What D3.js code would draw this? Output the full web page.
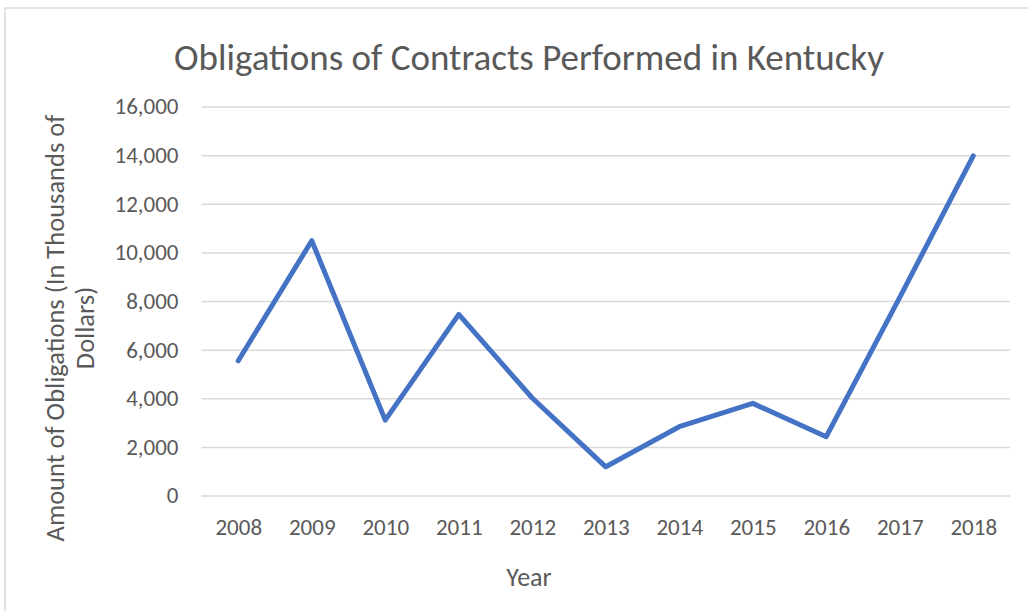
<!DOCTYPE html>
<html>
<head>
<meta charset="utf-8">
<script src="https://cdn.jsdelivr.net/npm/d3@7/dist/d3.min.js"></script>
<style>
    body { margin: 0; background: #fff; }
    svg { display: block; }
    svg text { font-family: Carlito, Calibri, Lato, sans-serif; }
</style>
</head>
<body>
<svg id="chart" width="1028" height="611"></svg>
<script>
// Chart data
const years = ['2008', '2009', '2010', '2011', '2012', '2013', '2014', '2015', '2016', '2017', '2018'];
const obligations = [5540, 10480, 3100, 7450, 4010, 1180, 2830, 3790, 2420, 8150, 13970];
const yTicks = [0, 2000, 4000, 6000, 8000, 10000, 12000, 14000, 16000];

const chartTitle = 'Obligations of Contracts Performed in Kentucky';
const xTitle = 'Year';
const yTitleLines = ['Amount of Obligations (In Thousands of', 'Dollars)'];

const colors = {
    text: '#595959',
    grid: '#d9d9d9',
    line: '#4472c4',
    border: '#d9d9d9'
};

const svg = d3.select('#chart');

// Plot area
const plot = { left: 201.5, right: 1010, top: 106.5, bottom: 495.5 };

// Chart area border (right/bottom edges run off the picture)
svg.append('rect')
    .attr('x', 5)
    .attr('y', 8)
    .attr('width', 1100)
    .attr('height', 700)
    .style('fill', 'none')
    .style('stroke', colors.border)
    .style('stroke-width', 1.5);

const x = d3.scalePoint()
    .domain(years)
    .range([plot.left, plot.right])
    .padding(0.5);

const y = d3.scaleLinear()
    .domain([0, 16000])
    .range([plot.bottom, plot.top]);

// Gridlines + y tick labels
const yAxis = svg.append('g')
    .attr('class', 'y-axis')
    .attr('transform', `translate(${plot.left},0)`)
    .call(d3.axisLeft(y)
        .tickValues(yTicks)
        .tickSize(-(plot.right - plot.left))
        .tickPadding(23)
        .tickFormat(d3.format(',')));

yAxis.attr('font-family', null);
yAxis.select('.domain').remove();
yAxis.selectAll('.tick line')
    .style('stroke', colors.grid)
    .style('stroke-width', 1.5);
yAxis.selectAll('.tick text')
    .style('fill', colors.text)
    .style('font-size', '23px');

// X axis labels
const xAxis = svg.append('g')
    .attr('class', 'x-axis')
    .attr('transform', `translate(0,${plot.bottom})`)
    .call(d3.axisBottom(x).tickSize(0).tickPadding(0));

xAxis.attr('font-family', null);
xAxis.select('.domain').remove();
xAxis.selectAll('.tick text')
    .attr('y', 31.5)
    .attr('dy', '0.35em')
    .style('fill', colors.text)
    .style('font-size', '23px');

// Data line
const line = d3.line()
    .x((d, i) => x(years[i]))
    .y(d => y(d));

svg.append('path')
    .datum(obligations)
    .attr('class', 'series')
    .attr('d', line)
    .style('fill', 'none')
    .style('stroke', colors.line)
    .style('stroke-width', 5)
    .style('stroke-linejoin', 'round')
    .style('stroke-linecap', 'round');

// Titles
svg.append('text')
    .attr('x', 529)
    .attr('y', 70)
    .attr('text-anchor', 'middle')
    .style('fill', colors.text)
    .style('font-size', '37px')
    .text(chartTitle);

svg.append('text')
    .attr('x', 529)
    .attr('y', 586)
    .attr('text-anchor', 'middle')
    .style('fill', colors.text)
    .style('font-size', '26px')
    .text(xTitle);

const yTitle = svg.append('text')
    .attr('transform', 'translate(0,328) rotate(-90)')
    .attr('text-anchor', 'middle')
    .style('fill', colors.text)
    .style('font-size', '26.5px');

yTitle.selectAll('tspan')
    .data(yTitleLines)
    .join('tspan')
    .attr('x', 0)
    .attr('y', (d, i) => 64 + i * 30)
    .text(d => d);
</script>
</body>
</html>
